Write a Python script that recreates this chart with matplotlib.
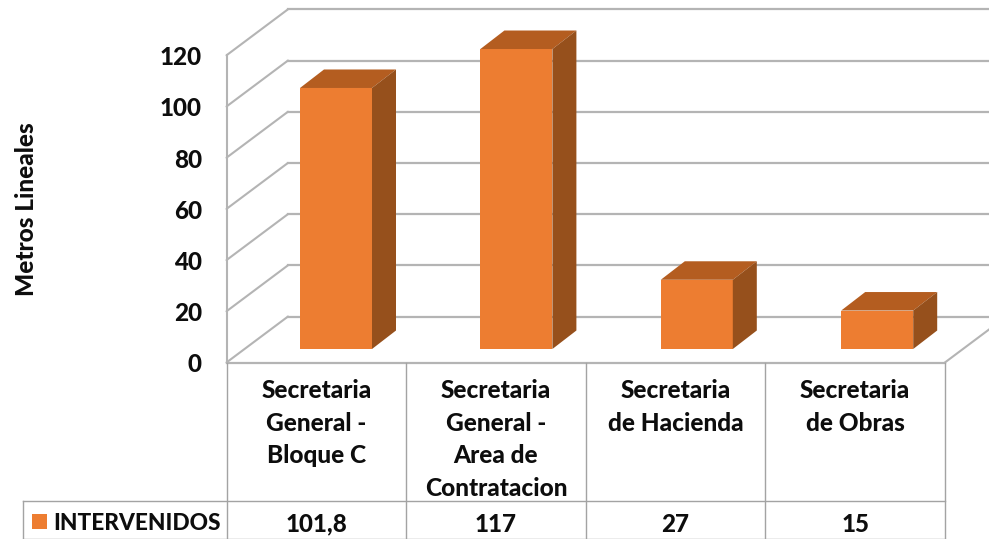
import matplotlib
matplotlib.use("Agg")
import matplotlib.pyplot as plt
from matplotlib.patches import Polygon, Rectangle

# Data
categories = ["Secretaria\nGeneral -\nBloque C",
              "Secretaria\nGeneral -\nArea de\nContratacion",
              "Secretaria\nde Hacienda",
              "Secretaria\nde Obras"]
value_labels = ["101,8", "117", "27", "15"]
values = [101.8, 117, 27, 15]
y_ticks = [0, 20, 40, 60, 80, 100, 120]
series_name = "INTERVENIDOS"
y_title = "Metros Lineales"

FONT = "Lato"
BLACK = "#0d0d0d"
GRID = "#b4b4b4"
TABLE = "#a3a3a3"
FRONT, TOP, SIDE = "#ED7D31", "#B45D20", "#96501C"

W, H = 989, 539
fig = plt.figure(figsize=(W / 100, H / 100), dpi=100)
ax = fig.add_axes([0, 0, 1, 1])
ax.set_xlim(0, W)
ax.set_ylim(H, 0)
ax.axis("off")

# Geometry of the pseudo-3D box (pixels)
X0, CW = 226.5, 179.6
Y0_WALL, K_WALL = 362.5, 2.56
DX, DY = 61.5, 46.0
BAR_X0, BAR_PITCH = 300.0, 180.4
BAR_Y0, K_BAR = 349.0, 2.564
BAR_W, BDX, BDY = 72.0, 24.0, 18.5
X_END = X0 + CW * len(values)

# Walls and floor
for t in y_ticks:
    y = Y0_WALL - t * K_WALL
    ax.plot([X0, X0 + DX], [y, y - DY], color=GRID, lw=1.5, zorder=1,
            solid_capstyle="round")
    ax.plot([X0 + DX, W], [y - DY, y - DY], color=GRID, lw=1.6, zorder=1)
ax.plot([X0, X0], [Y0_WALL, Y0_WALL - 120 * K_WALL], color=GRID, lw=1.5, zorder=1)
ax.plot([X0, X_END], [Y0_WALL, Y0_WALL], color=GRID, lw=1.6, zorder=1)
ax.plot([X_END, X_END + DX], [Y0_WALL, Y0_WALL - DY], color=GRID, lw=1.5, zorder=1)

# Bars
for i, v in enumerate(values):
    xl = BAR_X0 + BAR_PITCH * i
    xr = xl + BAR_W
    yt = BAR_Y0 - v * K_BAR
    ax.bar(xl, yt - BAR_Y0, bottom=BAR_Y0, width=BAR_W, align="edge",
           color=FRONT, zorder=3, linewidth=0)
    ax.add_patch(Polygon([(xl, yt), (xl + BDX, yt - BDY), (xr + BDX, yt - BDY), (xr, yt)],
                         closed=True, fc=TOP, ec="none", zorder=3))
    ax.add_patch(Polygon([(xr, yt), (xr + BDX, yt - BDY), (xr + BDX, BAR_Y0 - BDY), (xr, BAR_Y0)],
                         closed=True, fc=SIDE, ec="none", zorder=3))

# Data table grid
TBL_TOP, TBL_ROW, TBL_BOT, TBL_LEFT = 362.5, 501.0, 538.5, 22.5
for i in range(len(values) + 1):
    ax.plot([X0 + CW * i] * 2, [TBL_TOP, TBL_BOT], color=TABLE, lw=1.0, zorder=2)
ax.plot([TBL_LEFT, X_END], [TBL_ROW, TBL_ROW], color=TABLE, lw=1.0, zorder=2)
ax.plot([TBL_LEFT, X_END], [TBL_BOT, TBL_BOT], color=TABLE, lw=1.0, zorder=2)
ax.plot([TBL_LEFT, TBL_LEFT], [TBL_ROW, TBL_BOT], color=TABLE, lw=1.0, zorder=2)

# Text
txt = dict(family=FONT, weight=900, color=BLACK)
for t in y_ticks:
    ax.text(202, Y0_WALL - t * K_WALL + 0.5, str(t), ha="right", va="center_baseline",
            fontsize=17.5, **txt)
ax.text(27, 209, y_title, rotation=90, ha="center", va="center", fontsize=17.6, **txt)

for i, (c, vl) in enumerate(zip(categories, value_labels)):
    xc = X0 + CW * (i + 0.5)
    for j, line in enumerate(c.split("\n")):
        ax.text(xc, 388.5 + 32.6 * j, line, ha="center", va="center_baseline",
                fontsize=17.6, **txt)
    ax.text(xc, 522, vl, ha="center", va="center_baseline", fontsize=17.4, **txt)

ax.add_patch(Rectangle((32, 514), 15, 15, fc=FRONT, ec="none", zorder=3))
ax.text(53, 521, series_name, ha="left", va="center_baseline", fontsize=16.3, **txt)

fig.savefig("out.png", dpi=100, facecolor="white")
